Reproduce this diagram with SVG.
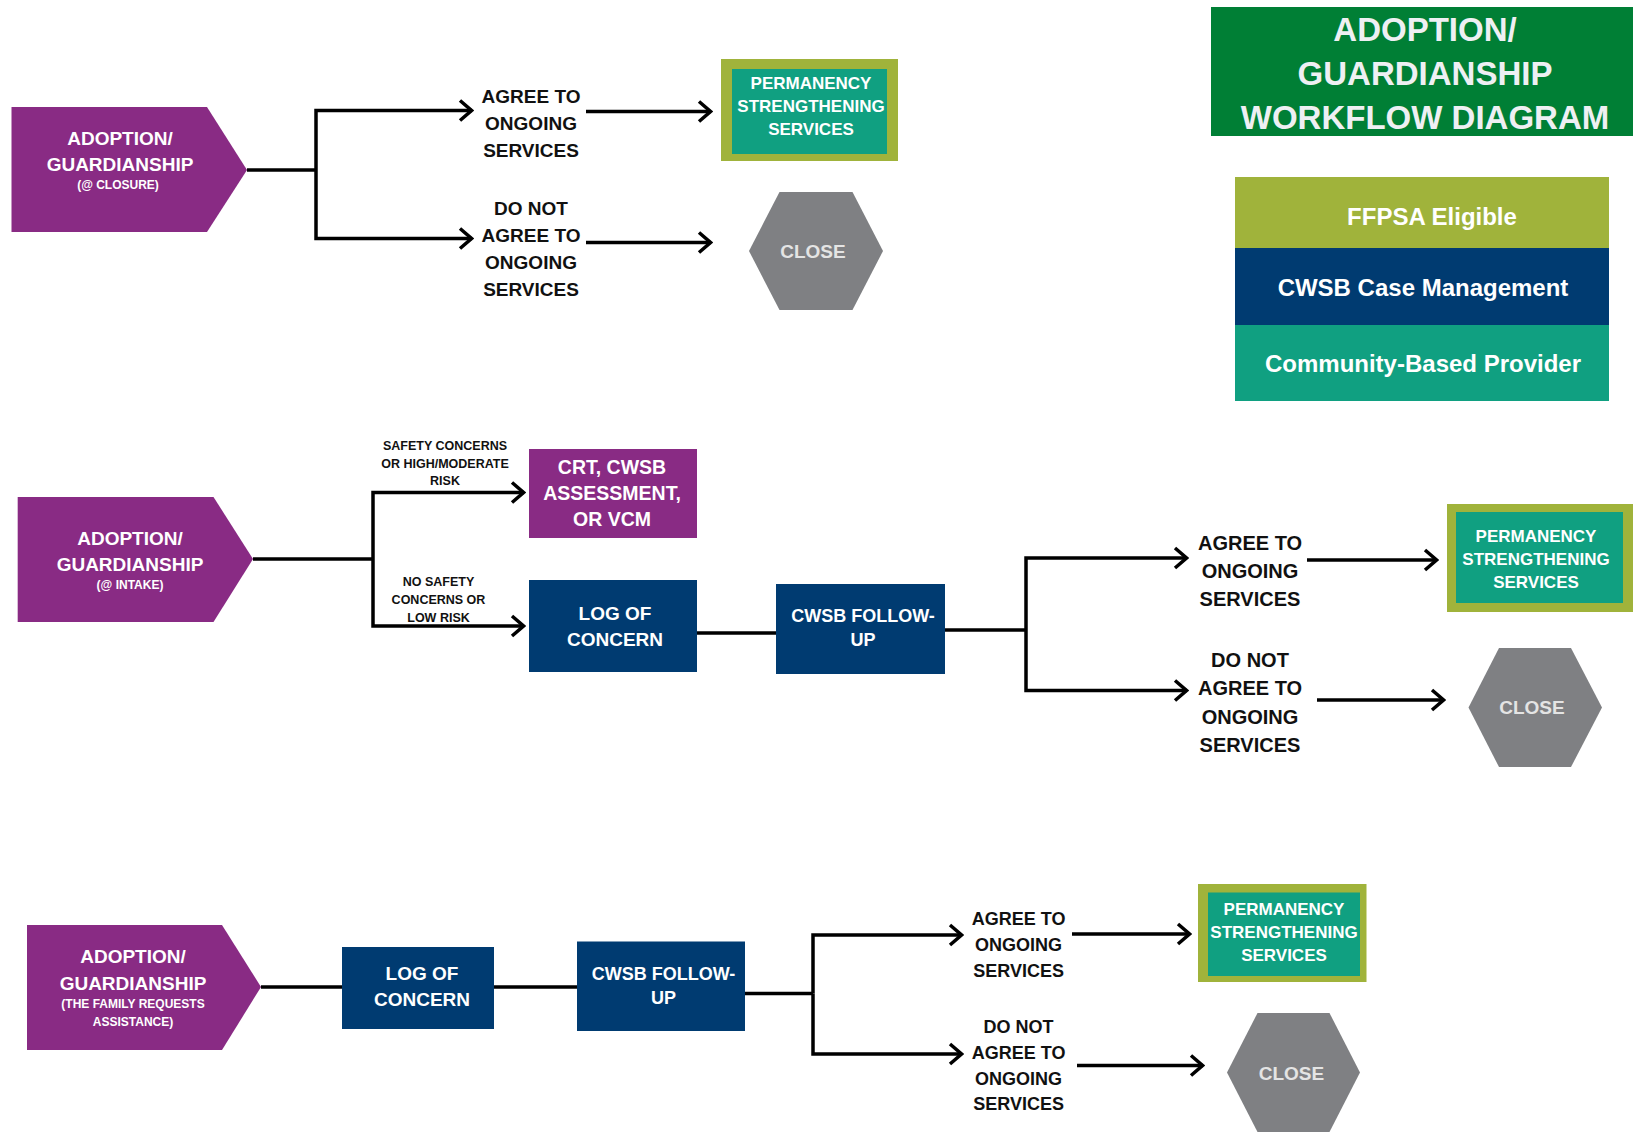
<svg xmlns="http://www.w3.org/2000/svg" width="1633" height="1132" viewBox="0 0 1633 1132">
<style>
.t{font-family:"Liberation Sans",Arial,sans-serif;font-weight:bold;text-anchor:middle}
.w{fill:#ffffff}
.k{fill:#111111}
.g{fill:#e4e4e4}
.pur{fill:#892b84}
.navy{fill:#003b71}
.teal{fill:#10a081}
.olive{fill:#a0b33b}
.hex{fill:#7f8083}
.ln{fill:none;stroke:#000;stroke-width:3.5}
.ar{marker-end:url(#arr)}
</style>
<defs>
<marker id="arr" viewBox="0 0 16 24" markerWidth="16" markerHeight="24" refX="14" refY="12" orient="auto" markerUnits="userSpaceOnUse">
<path d="M2,2 L13.5,12 L2,22" fill="none" stroke="#000" stroke-width="3.5"/>
</marker>
</defs>
<rect width="1633" height="1132" fill="#ffffff"/>

<g id="connectors">
<path class="ln" d="M247,170 H316"/>
<path class="ln ar" d="M316,170 V110.5 H472"/>
<path class="ln ar" d="M316,170 V238.5 H472"/>
<path class="ln ar" d="M586,111.5 H711"/>
<path class="ln ar" d="M586,242.5 H711"/>

<path class="ln" d="M253,559 H373"/>
<path class="ln ar" d="M373,559 V492.5 H524"/>
<path class="ln ar" d="M373,559 V626 H524"/>
<path class="ln" d="M697,633 H776"/>
<path class="ln" d="M945,630 H1026"/>
<path class="ln ar" d="M1026,630 V558 H1187"/>
<path class="ln ar" d="M1026,630 V690.5 H1187"/>
<path class="ln ar" d="M1307,560 H1437"/>
<path class="ln ar" d="M1317,700 H1444"/>

<path class="ln" d="M261,987 H342"/>
<path class="ln" d="M494,987 H577"/>
<path class="ln" d="M745,993.5 H813"/>
<path class="ln ar" d="M813,993.5 V935 H962"/>
<path class="ln ar" d="M813,993.5 V1054 H962"/>
<path class="ln ar" d="M1072,934 H1190"/>
<path class="ln ar" d="M1077,1065.5 H1203"/>
</g>

<g id="title">
<rect x="1211" y="7" width="422" height="129" fill="#007f35"/>
<text class="t" x="1425" y="41" font-size="33" fill="#eef0f3">ADOPTION/</text>
<text class="t" x="1425" y="85" font-size="33" fill="#eef0f3">GUARDIANSHIP</text>
<text class="t" x="1425" y="129" font-size="33" fill="#eef0f3">WORKFLOW DIAGRAM</text>
</g>

<g id="legend">
<rect class="olive" x="1235" y="177" width="374" height="71"/>
<rect class="navy" x="1235" y="248" width="374" height="77"/>
<rect class="teal" x="1235" y="325" width="374" height="76"/>
<text class="t w" x="1432" y="224.5" font-size="24">FFPSA Eligible</text>
<text class="t w" x="1423" y="296" font-size="24">CWSB Case Management</text>
<text class="t w" x="1423" y="372" font-size="24">Community-Based Provider</text>
</g>

<!-- Row 1 -->
<g id="start-closure">
<polygon class="pur" points="11.5,107 207,107 247,170 207,232 11.5,232"/>
<text class="t w" x="120" y="145" font-size="19">ADOPTION/</text>
<text class="t w" x="120" y="171" font-size="19">GUARDIANSHIP</text>
<text class="t w" x="118" y="189" font-size="12">(@ CLOSURE)</text>
</g>
<g id="agree-1">
<text class="t k" x="531" y="103" font-size="19">AGREE TO</text>
<text class="t k" x="531" y="130" font-size="19">ONGOING</text>
<text class="t k" x="531" y="157" font-size="19">SERVICES</text>
</g>
<g id="notagree-1">
<text class="t k" x="531" y="215" font-size="19">DO NOT</text>
<text class="t k" x="531" y="242" font-size="19">AGREE TO</text>
<text class="t k" x="531" y="269" font-size="19">ONGOING</text>
<text class="t k" x="531" y="296" font-size="19">SERVICES</text>
</g>
<g id="perm-1">
<rect class="olive" x="721" y="59" width="177" height="102"/>
<rect class="teal" x="732" y="69" width="155" height="85"/>
<text class="t w" x="811" y="89" font-size="17">PERMANENCY</text>
<text class="t w" x="811" y="112" font-size="17">STRENGTHENING</text>
<text class="t w" x="811" y="135" font-size="17">SERVICES</text>
</g>
<g id="close-1">
<polygon class="hex" points="749,251 779.5,192 852.5,192 883,251 852.5,310 779.5,310"/>
<text class="t g" x="813" y="258" font-size="19">CLOSE</text>
</g>

<!-- Row 2 -->
<g id="start-intake">
<polygon class="pur" points="17.7,497 213.5,497 253,559 213.5,622 17.7,622"/>
<text class="t w" x="130" y="545" font-size="19">ADOPTION/</text>
<text class="t w" x="130" y="571" font-size="19">GUARDIANSHIP</text>
<text class="t w" x="130" y="589" font-size="12">(@ INTAKE)</text>
</g>
<g id="label-safety">
<text class="t k" x="445" y="450" font-size="12.5">SAFETY CONCERNS</text>
<text class="t k" x="445" y="468" font-size="12.5">OR HIGH/MODERATE</text>
<text class="t k" x="445" y="485" font-size="12.5">RISK</text>
</g>
<g id="label-nosafety">
<text class="t k" x="438.5" y="586" font-size="12.5">NO SAFETY</text>
<text class="t k" x="438.5" y="604" font-size="12.5">CONCERNS OR</text>
<text class="t k" x="438.5" y="622" font-size="12.5">LOW RISK</text>
</g>
<g id="crt">
<rect class="pur" x="529" y="449" width="168" height="89"/>
<text class="t w" x="612" y="474" font-size="19.5">CRT, CWSB</text>
<text class="t w" x="612" y="500" font-size="19.5">ASSESSMENT,</text>
<text class="t w" x="612" y="526" font-size="19.5">OR VCM</text>
</g>
<g id="log-2">
<rect class="navy" x="529" y="580" width="168" height="92"/>
<text class="t w" x="615" y="620" font-size="19">LOG OF</text>
<text class="t w" x="615" y="646" font-size="19">CONCERN</text>
</g>
<g id="followup-2">
<rect class="navy" x="776" y="584" width="169" height="90"/>
<text class="t w" x="863" y="622" font-size="18">CWSB FOLLOW-</text>
<text class="t w" x="863" y="646" font-size="18">UP</text>
</g>
<g id="agree-2">
<text class="t k" x="1250" y="550" font-size="20">AGREE TO</text>
<text class="t k" x="1250" y="578" font-size="20">ONGOING</text>
<text class="t k" x="1250" y="606" font-size="20">SERVICES</text>
</g>
<g id="notagree-2">
<text class="t k" x="1250" y="667" font-size="20">DO NOT</text>
<text class="t k" x="1250" y="695" font-size="20">AGREE TO</text>
<text class="t k" x="1250" y="724" font-size="20">ONGOING</text>
<text class="t k" x="1250" y="752" font-size="20">SERVICES</text>
</g>
<g id="perm-2">
<rect class="olive" x="1447" y="504" width="186" height="108"/>
<rect class="teal" x="1456" y="512" width="167" height="91"/>
<text class="t w" x="1536" y="542" font-size="17">PERMANENCY</text>
<text class="t w" x="1536" y="565" font-size="17">STRENGTHENING</text>
<text class="t w" x="1536" y="588" font-size="17">SERVICES</text>
</g>
<g id="close-2">
<polygon class="hex" points="1468.5,707.5 1499,648 1571,648 1602,707.5 1571,767 1499,767"/>
<text class="t g" x="1532" y="714" font-size="19">CLOSE</text>
</g>

<!-- Row 3 -->
<g id="start-family">
<polygon class="pur" points="27,925 222,925 261,987 222,1050 27,1050"/>
<text class="t w" x="133" y="963" font-size="19">ADOPTION/</text>
<text class="t w" x="133" y="990" font-size="19">GUARDIANSHIP</text>
<text class="t w" x="133" y="1008" font-size="12">(THE FAMILY REQUESTS</text>
<text class="t w" x="133" y="1026" font-size="12">ASSISTANCE)</text>
</g>
<g id="log-3">
<rect class="navy" x="342" y="947" width="152" height="82"/>
<text class="t w" x="422" y="980" font-size="19">LOG OF</text>
<text class="t w" x="422" y="1006" font-size="19">CONCERN</text>
</g>
<g id="followup-3">
<rect class="navy" x="577" y="941.5" width="168" height="89.5"/>
<text class="t w" x="663.5" y="979.5" font-size="18">CWSB FOLLOW-</text>
<text class="t w" x="663.5" y="1003.5" font-size="18">UP</text>
</g>
<g id="agree-3">
<text class="t k" x="1018.6" y="925" font-size="18">AGREE TO</text>
<text class="t k" x="1018.6" y="951" font-size="18">ONGOING</text>
<text class="t k" x="1018.6" y="977" font-size="18">SERVICES</text>
</g>
<g id="notagree-3">
<text class="t k" x="1018.6" y="1032.5" font-size="18">DO NOT</text>
<text class="t k" x="1018.6" y="1058.5" font-size="18">AGREE TO</text>
<text class="t k" x="1018.6" y="1084.5" font-size="18">ONGOING</text>
<text class="t k" x="1018.6" y="1110" font-size="18">SERVICES</text>
</g>
<g id="perm-3">
<rect class="olive" x="1198" y="884" width="168.5" height="98"/>
<rect class="teal" x="1208" y="892.5" width="152" height="83.5"/>
<text class="t w" x="1284" y="915" font-size="17">PERMANENCY</text>
<text class="t w" x="1284" y="938" font-size="17">STRENGTHENING</text>
<text class="t w" x="1284" y="961" font-size="17">SERVICES</text>
</g>
<g id="close-3">
<polygon class="hex" points="1227,1072.5 1257.5,1013 1329.5,1013 1360,1072.5 1329.5,1132 1257.5,1132"/>
<text class="t g" x="1291.5" y="1080" font-size="19">CLOSE</text>
</g>
</svg>
